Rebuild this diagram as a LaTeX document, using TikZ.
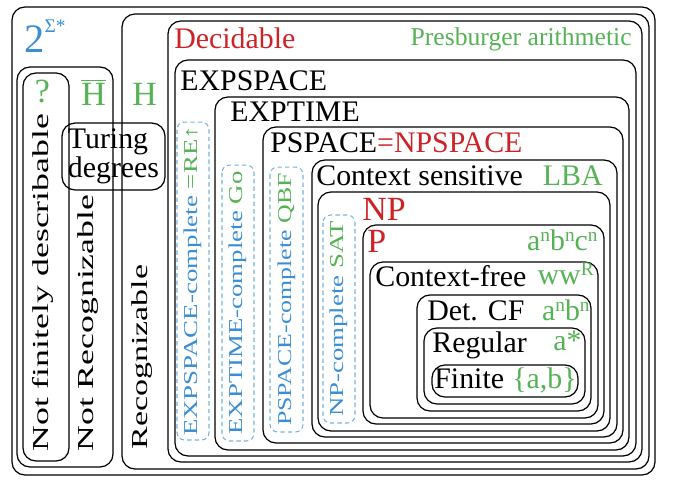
\documentclass[tikz,border=0pt]{standalone}
\usepackage{fontspec}
\setmainfont{Liberation Serif}
\usetikzlibrary{positioning}

\definecolor{langred}{RGB}{205,35,40}
\definecolor{langgreen}{RGB}{85,178,85}
\definecolor{langblue}{RGB}{60,142,212}
\definecolor{dashblue}{RGB}{120,178,225}

\newcommand\mainsz{\fontsize{17}{20}\selectfont}
\newcommand\presz{\fontsize{14.6}{17}\selectfont}
\newcommand\bigsz{\fontsize{19.3}{22}\selectfont}
\newcommand\allsz{\fontsize{23}{26}\selectfont}
\newcommand\sidesz{\fontsize{13}{15}\selectfont}
\newcommand\hardsz{\fontsize{11.2}{13}\selectfont}
\newcommand\sups[1]{\raisebox{0.3em}{\fontsize{11}{11}\selectfont #1}}

\begin{document}
\begin{tikzpicture}[x=0.02cm,y=-0.02cm,
    set/.style={line width=0.7pt,rounded corners=0.26cm},
    hard/.style={draw=dashblue,dash pattern=on 2.5pt off 1.8pt,line width=0.6pt,rounded corners=0.15cm,rotate=90,inner sep=0pt,font=\hardsz},
    side/.style={rotate=90,anchor=base west,inner sep=0pt,font=\sidesz},
    lbl/.style={anchor=base west,inner sep=0pt,font=\mainsz},
    ex/.style={anchor=base east,inner sep=0pt,font=\mainsz,text=langgreen}]
    \useasboundingbox (0,0) rectangle (685,480);
    % nested classes
    \draw[set] (12,7) rectangle (655,475);
    \draw[set] (17,67) rectangle (113,467);
    \draw[set] (23,73) rectangle (69,461);
    \draw[set] (122,14) rectangle (649,469);
    \draw[set] (168,21) rectangle (642,462);
    \draw[set] (175,60) rectangle (636,456);
    \draw[set] (215,97) rectangle (629,450);
    \draw[set] (263,127) rectangle (623,443);
    \draw[set] (312,160) rectangle (617,437);
    \draw[set] (318,192) rectangle (610,431);
    \draw[set] (363,225) rectangle (604,424);
    \draw[set] (370,262) rectangle (598,418);
    \draw[set] (417,295) rectangle (591,411);
    \draw[set] (424,328) rectangle (585,404);
    \draw[set] (432,365) rectangle (578,397);
    % left column
    \node[anchor=base west,inner sep=0pt,font=\allsz,text=langblue] (all) at (24,52) {2\raisebox{11pt}{\fontsize{11}{11}\selectfont Σ*}};
    \node[anchor=base,inner sep=0pt,font=\bigsz,text=langgreen] (unk) at (42.5,102) {?};
    \node[anchor=base,inner sep=0pt,font=\bigsz,text=langgreen] (coh) at (93.5,105) {$\overline{\mbox{H}}$};
    \node[anchor=base,inner sep=0pt,font=\bigsz,text=langgreen] (halt) at (144.5,105) {H};
    \node[draw,set,font={\fontsize{17}{14.2}\selectfont},align=left,minimum width=2.06cm,minimum height=1.26cm] (turing) at (113.5,156.5) {Turing\\degrees};
    \node[side] (nfd) at (48,452) {\resizebox{6.76cm}{\height}{Not finitely describable}};
    \node[side] (nrec) at (93,452) {\resizebox{5.14cm}{\height}{Not Recognizable}};
    \node[side] (rec) at (147,450) {\resizebox{3.7cm}{\height}{Recognizable}};
    % complete problems
    \node[hard,minimum width=6.36cm,minimum height=0.64cm] (expspc) at (193,281) {\resizebox{6.2cm}{\height}{\textcolor{langblue}{EXPSPACE-complete} \textcolor{langgreen}{=RE↑}}};
    \node[hard,minimum width=5.52cm,minimum height=0.64cm] (exptc) at (238,303) {\resizebox{5.26cm}{\height}{\textcolor{langblue}{EXPTIME-complete} \textcolor{langgreen}{Go}}};
    \node[hard,minimum width=5.3cm,minimum height=0.66cm] (pspc) at (286.5,299.5) {\resizebox{5.06cm}{\height}{\textcolor{langblue}{PSPACE-complete} \textcolor{langgreen}{QBF}}};
    \node[hard,minimum width=4.16cm,minimum height=0.64cm] (npc) at (339,319) {\resizebox{3.92cm}{\height}{\textcolor{langblue}{NP-complete} \textcolor{langgreen}{SAT}}};
    % class names and examples
    \node[lbl,text=langred] (dec) at (174,48) {Decidable};
    \node[ex,font=\presz] (pres) at (632,45) {Presburger arithmetic};
    \node[lbl] (expspace) at (180,90) {EXPSPACE};
    \node[lbl] (exptime) at (230,121) {EXPTIME};
    \node[lbl] (pspace) at (270,152) {PSPACE\textcolor{langred}{=NPSPACE}};
    \node[lbl] (cs) at (316,185) {Context sensitive};
    \node[ex] (lba) at (603,185) {LBA};
    \node[lbl,font=\bigsz,text=langred] (np) at (362,220) {NP};
    \node[lbl,font=\bigsz,text=langred] (p) at (367,252) {P};
    \node[ex] (anbncn) at (598,250) {a\sups{n}b\sups{n}c\sups{n}};
    \node[lbl] (cf) at (375,286) {Context-free};
    \node[ex] (wwr) at (594,284) {ww\sups{R}};
    \node[lbl] (dcf) at (427,320) {Det. CF};
    \node[ex] (anbn) at (590,320) {a\sups{n}b\sups{n}};
    \node[lbl] (reg) at (432,352) {Regular};
    \node[ex] (astar) at (582,350) {a*};
    \node[lbl] (fin) at (434,388) {Finite};
    \node[ex] (ab) at (577,388) {\{a,b\}};
\end{tikzpicture}
\end{document}
